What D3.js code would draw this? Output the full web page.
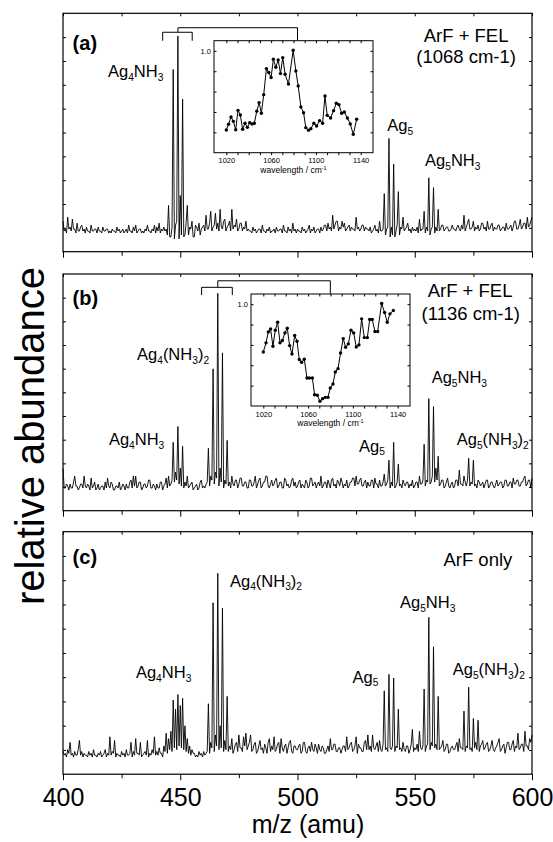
<!DOCTYPE html>
<html>
<head>
<meta charset="utf-8">
<script src="https://cdn.jsdelivr.net/npm/d3@7"></script>
<style>
  body { margin: 0; background: #fff; }
  svg { display: block; font-family: "Liberation Sans", Arial, sans-serif; }
</style>
</head>
<body>
<svg id="spectra" width="553" height="842"></svg>
<script>

// ************************************
// Data
// ************************************

// mass axis: one value every 0.5 amu, 400 ... 600
const massStart = 400;
const massEnd = 600;
const massStep = 0.5;

// (a) ArF + FEL (1068 cm-1), one row = 10 amu
const specA = [
  6, 1, 2, 0, 8, 2, 3, 1, 7, 2, 2, 0, 5, 1, 1, 3, 4, 1, 2, 0,
  3, 1, 1, 0, 4, 1, 1, 2, 2, 0, 3, 1, 1, 0, 3, 1, 1, 2, 2, 0,
  1, 0, 2, 1, 1, 0, 3, 1, 2, 0, 1, 2, 0, 1, 2, 0, 4, 1, 1, 0,
  3, 1, 4, 0, 1, 2, 2, 0, 1, 0, 2, 1, 4, 1, 1, 0, 2, 1, 4, 0,
  3, 1, 5, 0, 2, 1, 3, 1, 2, -1, 14, -2, -2, 3, 83, -3, 4, 6, 100, -3,
  19, -1, 68, -2, -1, 5, 14, -1, 3, 2, 6, -2, -2, 4, 3, 1, 5, -1, 2, 3,
  4, 1, 9, 2, 2, 5, 11, 1, 3, 4, 10, 2, 5, 1, 12, 3, 2, 6, 7, 1,
  3, 4, 6, 1, 12, 2, 4, 3, 7, 1, 2, 5, 5, 1, 3, 2, 6, 1, 2, 1,
  1, 0, 3, 1, 2, 0, 1, 2, 2, 0, 4, 1, 1, 0, 2, 1, 3, 0, 1, 1,
  2, 0, 3, 1, 1, 2, 2, 0, 4, 1, 1, 0, 3, 1, 2, 0, 5, 1, 2, 0,
  2, 1, 1, 0, 3, 1, 2, 0, 1, 2, 4, 0, 2, 1, 3, 0, 1, 2, 2, 0,
  3, 1, 2, 4, 4, 1, 5, 2, 3, 1, 9, 2, 4, 6, 6, 1, 3, 2, 6, 3,
  5, 1, 2, 3, 4, 1, 3, 2, 2, 1, 8, 2, 3, 1, 2, 4, 4, 1, 3, 2,
  2, 1, 3, 0, 1, 2, 4, 1, 2, 0, 6, 1, 1, 2, 20, -1, 2, 3, 48, -2,
  3, -1, 35, -2, 1, 4, 21, -1, 3, 2, 8, 1, 2, 3, 5, 1, 2, 0, 3, 1,
  2, 1, 3, 0, 7, 1, 2, 2, 11, 0, 3, 1, 28, -1, 2, 3, 23, 0, 3, 1,
  12, 1, 2, 4, 4, 1, 2, 3, 3, 1, 1, 2, 4, 2, 2, 1, 3, 4, 2, 1,
  4, 2, 9, 1, 3, 5, 7, 2, 2, 3, 6, 1, 3, 2, 4, 1, 2, 5, 5, 2,
  3, 1, 6, 2, 2, 4, 5, 1, 3, 2, 2, 4, 4, 1, 2, 3, 3, 1, 5, 2,
  2, 3, 4, 1, 3, 6, 6, 2, 2, 4, 7, 2, 3, 5, 5, 2, 8, 3, 4, 6,
  8
];

// (b) ArF + FEL (1136 cm-1)
const specB = [
  12, 2, 2, 4, 3, 1, 4, 2, 2, 5, 8, 3, 3, 1, 2, 4, 4, 2, 8, 3,
  2, 4, 3, 1, 7, 2, 3, 5, 1, 2, 4, 1, 2, 3, 3, 1, 5, 2, 7, 3,
  2, 5, 4, 1, 1, 3, 3, 2, 5, 1, 2, 4, 3, 1, 4, 2, 2, 5, 6, 2,
  8, 3, 8, 2, 3, 5, 5, 1, 2, 4, 4, 2, 3, 6, 6, 2, 2, 4, 3, 1,
  4, 2, 2, 5, 5, 1, 3, 4, 7, 2, 8, 3, 4, 6, 25, 5, 10, 6, 33, 4,
  12, 3, 23, 2, 5, 3, 8, 2, 3, 4, 5, 1, 2, 3, 4, 1, 2, 5, 6, 2,
  3, 2, 4, 5, 22, 3, 8, 6, 62, 4, 10, 7, 100, 3, 12, 5, 70, 2, 6, 4,
  26, 3, 5, 2, 8, 4, 3, 6, 6, 2, 4, 7, 7, 3, 3, 5, 5, 2, 2, 6,
  6, 3, 3, 5, 8, 2, 4, 6, 7, 2, 3, 5, 5, 8, 8, 3, 2, 4, 6, 3,
  4, 6, 7, 2, 3, 5, 5, 2, 2, 7, 6, 3, 4, 2, 3, 6, 7, 3, 5, 2,
  3, 5, 6, 2, 4, 3, 2, 6, 5, 2, 3, 7, 7, 3, 4, 5, 2, 4, 5, 3,
  8, 2, 3, 5, 5, 2, 6, 4, 2, 6, 7, 3, 4, 2, 6, 5, 3, 7, 5, 2,
  4, 3, 6, 2, 3, 5, 5, 7, 7, 3, 8, 4, 4, 6, 7, 3, 3, 5, 6, 2,
  5, 3, 3, 6, 6, 2, 7, 4, 4, 2, 6, 3, 3, 5, 9, 3, 4, 6, 16, 2,
  5, 3, 25, 2, 3, 5, 14, 3, 4, 2, 6, 4, 3, 5, 5, 2, 4, 3, 6, 2,
  3, 5, 5, 2, 8, 4, 4, 6, 24, 3, 6, 5, 47, 4, 5, 8, 43, 5, 12, 6,
  18, 3, 4, 6, 6, 2, 3, 5, 7, 3, 2, 4, 5, 2, 3, 6, 6, 3, 11, 4,
  4, 3, 8, 5, 3, 6, 17, 3, 5, 4, 16, 3, 4, 2, 6, 5, 3, 4, 5, 2,
  4, 6, 6, 2, 3, 5, 5, 3, 2, 4, 6, 3, 4, 5, 5, 2, 3, 6, 6, 3,
  3, 5, 5, 2, 7, 4, 4, 6, 6, 3, 3, 5, 5, 7, 8, 3, 4, 6, 6, 2,
  7
];

// (c) ArF only
const specC = [
  3, 1, 2, 0, 4, 2, 8, 1, 2, 0, 3, 1, 1, 4, 9, 1, 3, 0, 2, 1,
  1, 0, 3, 1, 2, 0, 4, 1, 1, 0, 2, 1, 3, 0, 1, 2, 4, 0, 2, 1,
  11, 1, 3, 2, 9, 0, 2, 1, 1, 0, 3, 1, 2, 0, 4, 1, 1, 2, 8, 0,
  3, 1, 10, 2, 2, 1, 8, 0, 1, 2, 3, 1, 9, 0, 2, 1, 4, 2, 11, 1,
  3, 1, 5, 2, 2, 0, 6, 3, 13, 2, 10, 4, 14, 3, 31, 5, 26, 4, 34, 6,
  28, 5, 32, 4, 17, 3, 10, 2, 6, 1, 4, 2, 2, 0, 1, 0, 3, 1, 2, 0,
  3, 1, 2, 3, 29, 2, 8, 5, 84, 3, 12, 6, 100, 4, 17, 5, 81, 3, 9, 4,
  33, 3, 6, 4, 10, 2, 4, 7, 8, 3, 12, 5, 5, 3, 11, 6, 13, 4, 6, 8,
  12, 3, 4, 7, 8, 2, 3, 6, 9, 4, 5, 2, 7, 5, 2, 8, 10, 3, 6, 4,
  11, 3, 4, 7, 8, 2, 10, 5, 3, 6, 7, 2, 5, 8, 9, 3, 2, 6, 6, 4,
  4, 6, 7, 2, 3, 8, 8, 3, 2, 5, 6, 3, 8, 4, 3, 7, 5, 2, 7, 4,
  3, 6, 5, 2, 2, 4, 6, 3, 10, 4, 4, 7, 7, 3, 3, 5, 5, 2, 4, 6,
  6, 3, 11, 4, 5, 7, 8, 3, 4, 6, 11, 2, 7, 5, 5, 3, 3, 8, 9, 4,
  12, 4, 6, 3, 12, 5, 4, 6, 8, 3, 9, 4, 3, 7, 36, 4, 5, 3, 45, 5,
  4, 6, 43, 3, 6, 5, 26, 4, 5, 3, 8, 4, 3, 6, 6, 2, 4, 7, 15, 3,
  5, 4, 7, 3, 14, 5, 4, 6, 37, 3, 6, 7, 76, 4, 8, 6, 60, 5, 7, 4,
  33, 4, 5, 6, 9, 3, 4, 7, 7, 2, 3, 5, 6, 4, 4, 6, 8, 3, 10, 5,
  5, 4, 25, 3, 6, 5, 38, 4, 5, 3, 21, 5, 8, 4, 20, 3, 6, 7, 9, 4,
  5, 7, 8, 3, 4, 6, 9, 4, 3, 5, 6, 8, 10, 3, 4, 6, 7, 2, 5, 8,
  8, 4, 4, 7, 9, 3, 6, 5, 13, 4, 5, 7, 7, 3, 14, 6, 6, 4, 10, 8,
  12
];

// inset (a): depletion spectrum
const insetAWave = [1020, 1022, 1024.2, 1026.3, 1028.4, 1030.4, 1032.5, 1034.6, 1036.7, 1038.8,
  1040.9, 1043, 1045, 1047.2, 1049.3, 1051.3, 1053.4, 1055.8, 1057.9, 1060,
  1062, 1064.2, 1066.3, 1068.4, 1070.4, 1072.5, 1075.5, 1079.7, 1082.1, 1084.2,
  1086.6, 1089, 1091, 1093.4, 1095.5, 1098.2, 1100.6, 1103.3, 1106, 1108.1,
  1110.1, 1113.1, 1115.8, 1118.2, 1120.6, 1123, 1125.4, 1128.1, 1130.7, 1133.4, 1136.4];
const insetAVal = [0.223, 0.279, 0.351, 0.308, 0.226, 0.416, 0.370, 0.230, 0.289, 0.249,
  0.295, 0.282, 0.289, 0.407, 0.492, 0.387, 0.570, 0.826, 0.787, 0.738,
  0.918, 0.839, 0.911, 0.777, 0.934, 0.770, 0.675, 1.006, 0.803, 0.656,
  0.449, 0.393, 0.246, 0.220, 0.236, 0.289, 0.262, 0.315, 0.289, 0.557,
  0.367, 0.341, 0.413, 0.485, 0.472, 0.387, 0.400, 0.341, 0.282, 0.180, 0.328];

// inset (b)
const insetBWave = [1020, 1022.4, 1024.5, 1026.5, 1028.6, 1030.7, 1032.8, 1034.9, 1037, 1039.3,
  1041.4, 1043.5, 1045.6, 1048, 1050.1, 1052.1, 1054.2, 1056.6, 1059, 1061.1,
  1063.8, 1065.8, 1068.2, 1070.6, 1073, 1075.4, 1077.7, 1079.8, 1082.2, 1084.3,
  1086.7, 1089, 1091.4, 1093.5, 1095.9, 1098.3, 1100.7, 1103, 1105.4, 1107.8,
  1110.2, 1112.9, 1115, 1117.3, 1119.7, 1122.1, 1125.7, 1128.3, 1130.7, 1133.1, 1136.1];
const insetBVal = [0.531, 0.620, 0.728, 0.757, 0.587, 0.744, 0.823, 0.620, 0.643, 0.718,
  0.764, 0.593, 0.511, 0.692, 0.636, 0.456, 0.430, 0.459, 0.275, 0.275,
  0.275, 0.111, 0.105, 0.046, 0.072, 0.085, 0.085, 0.177, 0.216, 0.334,
  0.367, 0.521, 0.662, 0.577, 0.610, 0.744, 0.718, 0.580, 0.600, 0.856,
  0.672, 0.672, 0.849, 0.849, 0.731, 0.731, 1.007, 0.918, 0.823, 0.905, 0.938];

// tick labels
const mzTicks = [400, 450, 500, 550, 600];
const mzMinorTicks = [400, 425, 450, 475, 500, 525, 550, 575, 600];
const waveTicks = [1020, 1060, 1100, 1140];
const waveMinorTicks = d3.range(1020, 1141, 10);
const insetYTicks = [0.2, 0.4, 0.6, 0.8, 1.0];


// ************************************
// Layout
// ************************************

const svg = d3.select("#spectra");

const plotLeft = 63;
const plotRight = 532;
const labelSize = 16.5;   // formula labels
const textSize = 18.5;    // "ArF + FEL" etc.

const x = d3.scaleLinear().domain([massStart, massEnd]).range([plotLeft, plotRight]);

const panels = [
  {
    spec: specA, top: 13.3, bottom: 251.7, base: 233, peak: 36,
    notes: [
      { t: "(a)", m: 404.1, v: 93, a: "start", bold: true },
      { t: "Ag4NH3", m: 442.8, v: 79, a: "end", chem: true },
      { t: "Ag5", m: 538.3, v: 51.8, a: "start", chem: true },
      { t: "Ag5NH3", m: 554.4, v: 34, a: "start", chem: true },
      { t: "ArF + FEL", m: 571.9, v: 97, a: "middle" },
      { t: "(1068 cm-1)", m: 571.9, v: 86.2, a: "middle" }
    ],
    inset: { wave: insetAWave, val: insetAVal, left: 214, top: 40.7 },
    bracket: { lo: 442.5, hi: 455.1, mid: 449, link: 500, bar: 101.9, leg: 97.6, up: 104.2 }
  },
  {
    spec: specB, top: 274, bottom: 510.7, base: 492, peak: 293.3,
    notes: [
      { t: "(b)", m: 404.1, v: 94.1, a: "start", bold: true },
      { t: "Ag4(NH3)2", m: 462.3, v: 66.4, a: "end", chem: true },
      { t: "Ag4NH3", m: 443.2, v: 23.7, a: "end", chem: true },
      { t: "Ag5", m: 537.3, v: 20.3, a: "end", chem: true },
      { t: "Ag5NH3", m: 557.2, v: 54.7, a: "start", chem: true },
      { t: "Ag5(NH3)2", m: 567.9, v: 23.7, a: "start", chem: true },
      { t: "ArF + FEL", m: 573.6, v: 98, a: "middle" },
      { t: "(1136 cm-1)", m: 573.9, v: 86.6, a: "middle" }
    ],
    inset: { wave: insetBWave, val: insetBVal, left: 251, top: 294 },
    bracket: { lo: 459.1, hi: 472.2, mid: 466, link: 514, bar: 103, leg: 99.1, up: 106.3 }
  },
  {
    spec: specC, top: 531.7, bottom: 774.2, base: 757, peak: 573.3,
    notes: [
      { t: "(c)", m: 404.1, v: 105, a: "start", bold: true },
      { t: "Ag4(NH3)2", m: 471.2, v: 92.7, a: "start", chem: true },
      { t: "Ag4NH3", m: 431.1, v: 43, a: "start", chem: true },
      { t: "ArF only", m: 591.6, v: 104, a: "end" },
      { t: "Ag5NH3", m: 543.7, v: 81, a: "start", chem: true },
      { t: "Ag5", m: 534.5, v: 40.4, a: "end", chem: true },
      { t: "Ag5(NH3)2", m: 566.2, v: 44.6, a: "start", chem: true }
    ]
  }
];

const insetWidth = 159;
const insetHeight = 112;


// write a label, digits in formulas become subscripts
function addNote(g, n, xs, ys) {
  const size = n.chem ? labelSize : (n.bold ? 20 : textSize);
  const t = g.append("text")
    .attr("x", xs(n.m))
    .attr("y", ys(n.v))
    .attr("text-anchor", n.a)
    .style("font-size", size + "px")
    .style("font-weight", n.bold ? "bold" : null);
  if (!n.chem) {
    t.text(n.t);
    return;
  }
  const shift = size * 0.22;
  let down = false;
  n.t.match(/\d+|[^\d]+/g).forEach(run => {
    const sub = /^\d/.test(run);
    const span = t.append("tspan").text(run).style("font-size", (sub ? size * 0.62 : size) + "px");
    if (sub && !down) { span.attr("dy", shift); down = true; }
    else if (!sub && down) { span.attr("dy", -shift); down = false; }
  });
}


// ************************************
// Panels
// ************************************

panels.forEach((p, i) => {
  const isLast = i === panels.length - 1;
  const y = d3.scaleLinear().domain([0, 100]).range([p.base, p.peak]);
  const g = svg.append("g");

  // mass spectrum
  g.append("path")
    .datum(p.spec)
    .attr("d", d3.line().x((d, j) => x(massStart + j * massStep)).y(d => y(d)))
    .attr("fill", "none")
    .attr("stroke", "#000")
    .attr("stroke-width", 0.9);

  // frame
  g.append("rect")
    .attr("x", plotLeft)
    .attr("y", p.top)
    .attr("width", plotRight - plotLeft)
    .attr("height", p.bottom - p.top)
    .attr("fill", "none")
    .attr("stroke", "#000")
    .attr("stroke-width", 1.2);

  // bottom axis, ticks outside
  const xAxis = g.append("g")
    .attr("transform", `translate(0,${p.bottom})`)
    .call(d3.axisBottom(x)
      .tickValues(mzMinorTicks)
      .tickSize(4)
      .tickFormat(d => (isLast && mzTicks.includes(d)) ? d : ""));
  xAxis.select(".domain").remove();
  xAxis.selectAll(".tick line").filter(d => d % 50 === 0).attr("y2", 6);
  xAxis.selectAll(".tick text")
    .attr("y", 32)
    .attr("dy", 0)
    .style("font-size", "25px")
    .style("font-family", "'Liberation Sans', Arial, sans-serif");

  // top axis, ticks inside
  g.append("g")
    .attr("transform", `translate(0,${p.top})`)
    .call(d3.axisTop(x).tickValues(mzMinorTicks).tickSize(-3).tickFormat(""))
    .select(".domain").remove();

  // left / right ticks, no labels
  const yTick = d3.scaleLinear().domain([0, 10]).range([p.bottom, p.top]);
  g.append("g")
    .attr("transform", `translate(${plotLeft},0)`)
    .call(d3.axisLeft(yTick).tickValues(d3.range(1, 10)).tickSize(-3).tickFormat(""))
    .select(".domain").remove();
  g.append("g")
    .attr("transform", `translate(${plotRight},0)`)
    .call(d3.axisRight(yTick).tickValues(d3.range(1, 10)).tickSize(-3).tickFormat(""))
    .select(".domain").remove();

  // labels
  p.notes.forEach(n => addNote(g, n, x, y));

  // bracket over the selected peaks and the link to the inset
  if (p.bracket) {
    const b = p.bracket;
    const path = d3.path();
    path.moveTo(x(b.lo), y(b.leg));
    path.lineTo(x(b.lo), y(b.bar));
    path.lineTo(x(b.hi), y(b.bar));
    path.lineTo(x(b.hi), y(b.leg));
    path.moveTo(x(b.mid), y(b.bar));
    path.lineTo(x(b.mid), y(b.up));
    path.lineTo(x(b.link), y(b.up));
    path.lineTo(x(b.link), p.inset.top);
    g.append("path")
      .attr("d", path.toString())
      .attr("fill", "none")
      .attr("stroke", "#000")
      .attr("stroke-width", 1);
  }

  // inset: depletion vs. wavenumber
  if (p.inset) {
    const ins = p.inset;
    const gi = g.append("g").attr("transform", `translate(${ins.left},${ins.top})`);
    const xi = d3.scaleLinear().domain([1009, 1151]).range([0, insetWidth]);
    const yi = d3.scaleLinear().domain([0, 1.1]).range([insetHeight, 0]);

    gi.append("rect")
      .attr("width", insetWidth)
      .attr("height", insetHeight)
      .attr("fill", "#fff")
      .attr("stroke", "#000")
      .attr("stroke-width", 1);

    const ib = gi.append("g")
      .attr("transform", `translate(0,${insetHeight})`)
      .call(d3.axisBottom(xi).tickValues(waveMinorTicks).tickSize(2.5)
        .tickFormat(d => waveTicks.includes(d) ? d : ""));
    ib.select(".domain").remove();
    ib.selectAll(".tick text").attr("y", 10.5).attr("dy", 0)
      .style("font-size", "7.5px").style("font-family", "'Liberation Sans', Arial, sans-serif");

    gi.append("g")
      .call(d3.axisTop(xi).tickValues(waveMinorTicks).tickSize(-2.5).tickFormat(""))
      .select(".domain").remove();

    const il = gi.append("g")
      .call(d3.axisLeft(yi).tickValues(insetYTicks).tickSize(-2.5)
        .tickFormat(d => d === 1 ? "1.0" : ""));
    il.select(".domain").remove();
    il.selectAll(".tick text").attr("x", -3).attr("dy", "0.32em")
      .style("font-size", "7.5px").style("font-family", "'Liberation Sans', Arial, sans-serif");

    gi.append("g")
      .attr("transform", `translate(${insetWidth},0)`)
      .call(d3.axisRight(yi).tickValues(insetYTicks).tickSize(-2.5).tickFormat(""))
      .select(".domain").remove();

    const pts = ins.wave.map((w, j) => [w, ins.val[j]]);
    gi.append("path")
      .datum(pts)
      .attr("d", d3.line().x(d => xi(d[0])).y(d => yi(d[1])))
      .attr("fill", "none")
      .attr("stroke", "#000")
      .attr("stroke-width", 1);
    gi.selectAll(".pt")
      .data(pts)
      .enter()
      .append("circle")
      .attr("class", "pt")
      .attr("cx", d => xi(d[0]))
      .attr("cy", d => yi(d[1]))
      .attr("r", 1.7)
      .attr("fill", "#000");

    const title = gi.append("text")
      .attr("x", insetWidth / 2)
      .attr("y", insetHeight + 20)
      .attr("text-anchor", "middle")
      .style("font-size", "8.5px");
    title.append("tspan").text("wavelength / cm");
    title.append("tspan").text("-1").attr("dy", -3).style("font-size", "5.5px");
  }
});


// ************************************
// Axis titles
// ************************************

svg.append("text")
  .attr("x", 308)
  .attr("y", 833)
  .attr("text-anchor", "middle")
  .style("font-size", "25px")
  .text("m/z (amu)");

svg.append("text")
  .attr("transform", "translate(44,436) rotate(-90)")
  .attr("text-anchor", "middle")
  .style("font-size", "40px")
  .text("relative abundance");

</script>
</body>
</html>
